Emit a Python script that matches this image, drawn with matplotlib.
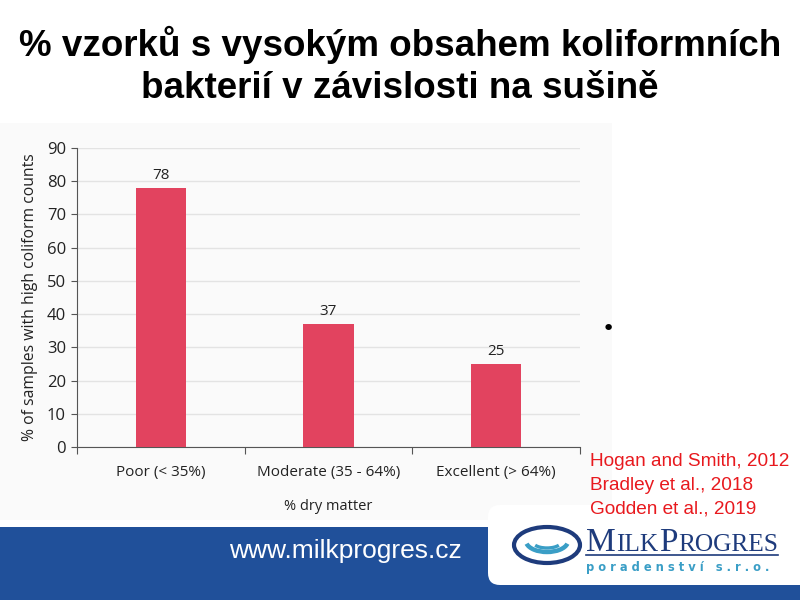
import matplotlib
matplotlib.use("Agg")
import matplotlib.pyplot as plt
from matplotlib.patches import Rectangle, FancyBboxPatch, Ellipse, Arc

# data
categories = ["Poor (< 35%)", "Moderate (35 - 64%)", "Excellent (> 64%)"]
values = [78, 37, 25]
yticks = [0, 10, 20, 30, 40, 50, 60, 70, 80, 90]
references = ["Hogan and Smith, 2012", "Bradley et al., 2018", "Godden et al., 2019"]

W, H = 800, 600
BAR = "#E2435F"
BLUE = "#20509A"
NAVY = "#1E3B7C"
LIGHT = "#3A9EC6"
CHART_FONT = "Open Sans"


def px(x, y):
    # pixel (from top-left) -> figure fraction
    return x / W, 1 - y / H


fig = plt.figure(figsize=(8, 6), dpi=100)
fig.patch.set_facecolor("white")

# light background of the pasted chart picture
fig.patches.append(Rectangle(px(0, 520), 612 / W, 397 / H, transform=fig.transFigure,
                             facecolor="#FAFAFA", edgecolor="none", zorder=-5))

# title
fig.text(0.5, px(0, 45)[1], "% vzorků s vysokým obsahem koliformních", ha="center", va="center",
         fontsize=26.5, fontweight="bold", family="Liberation Sans")
fig.text(0.5, px(0, 88)[1], "bakterií v závislosti na sušině", ha="center", va="center",
         fontsize=26.5, fontweight="bold", family="Liberation Sans")

# chart axes
x0, x1, ytop, ybot = 77, 580, 148, 447
ax = fig.add_axes([x0 / W, 1 - ybot / H, (x1 - x0) / W, (ybot - ytop) / H])
ax.set_facecolor("none")
ax.set_zorder(1)
pos = range(len(categories))
ax.bar(pos, values, width=0.3, color=BAR, zorder=3)
for p, v in zip(pos, values):
    ax.text(p, v + 1.5, str(v), ha="center", va="bottom", fontsize=11, family=CHART_FONT, color="#222222")
ax.set_xlim(-0.5, 2.5)
ax.set_ylim(0, 90)
ax.set_yticks(yticks)
ax.yaxis.grid(True, color="#E3E3E3", linewidth=1, zorder=0)
ax.set_axisbelow(True)
ax.set_xticks([-0.5, 0.5, 1.5, 2.5])
ax.set_xticklabels([])
ax.set_xticks(list(pos), minor=True)
ax.set_xticklabels(categories, minor=True)
ax.tick_params(axis="x", which="minor", length=0, pad=13, labelsize=11, labelcolor="#222222")
ax.tick_params(axis="x", which="major", length=5, color="#555555")
ax.tick_params(axis="y", length=4, color="#555555", labelsize=12, labelcolor="#222222", pad=4)
for lab in ax.get_xticklabels(minor=True) + ax.get_yticklabels():
    lab.set_family(CHART_FONT)
for s in ["top", "right"]:
    ax.spines[s].set_visible(False)
ax.spines["left"].set_color("#555555")
ax.spines["bottom"].set_color("#555555")
ax.set_xlabel("% dry matter", fontsize=10.5, family=CHART_FONT, color="#222222", labelpad=14)
ax.set_ylabel("% of samples with high coliform counts", fontsize=11.3, family=CHART_FONT,
              color="#222222", labelpad=6)

# stray bullet
fig.text(*px(608, 329), "•", ha="center", va="center", fontsize=16, color="black")

# references
for i, r in enumerate(references):
    fig.text(*px(590, 461 + i * 24), r, ha="left", va="center", fontsize=13.7,
             family="Liberation Sans", color="#E8191E")

# bottom banner
fig.patches.append(Rectangle((0, 0), 1, 73 / H, transform=fig.transFigure,
                             facecolor=BLUE, edgecolor="none", zorder=2))
fig.patches.append(FancyBboxPatch(px(488, 585), 340 / W, 80 / H, transform=fig.transFigure,
                                  boxstyle="round,pad=0,rounding_size=0.015",
                                  facecolor="white", edgecolor="none", zorder=2.5,
                                  mutation_aspect=W / H))
fig.text(*px(462, 551), "www.milkprogres.cz", ha="right", va="center", fontsize=19,
         family="Liberation Sans", color="white", zorder=3)

# logo
fig.patches.append(Ellipse(px(547, 545), 66 / W, 36 / H, transform=fig.transFigure,
                           facecolor="none", edgecolor=NAVY, linewidth=3, zorder=3))
fig.patches.append(Arc(px(547, 541), 42 / W, 22 / H, theta1=190, theta2=350, transform=fig.transFigure,
                       edgecolor=LIGHT, linewidth=3.2, zorder=3))
fig.patches.append(Arc(px(547, 542), 28 / W, 12 / H, theta1=200, theta2=340, transform=fig.transFigure,
                       edgecolor=LIGHT, linewidth=2.4, zorder=3))

renderer = fig.canvas.get_renderer()
xcur = 586
for piece, size in [("M", 24), ("ILK", 18.3), ("P", 24), ("ROGRES", 18.3)]:
    t = fig.text(*px(xcur, 551), piece, ha="left", va="baseline", fontsize=size,
                 family="Liberation Serif", color=NAVY, zorder=3)
    bb = t.get_window_extent(renderer)
    xcur += bb.width + 0.5
fig.lines.append(plt.Line2D([586 / W, 778 / W], [px(0, 555)[1]] * 2, transform=fig.transFigure,
                            color=NAVY, linewidth=1.2, zorder=3))
fig.text(*px(586, 567), "p o r a d e n s t v í   s . r . o .", ha="left", va="center", fontsize=8.3,
         fontweight="bold", family="DejaVu Sans", color=LIGHT, zorder=3)

fig.savefig("out.png", dpi=100)
